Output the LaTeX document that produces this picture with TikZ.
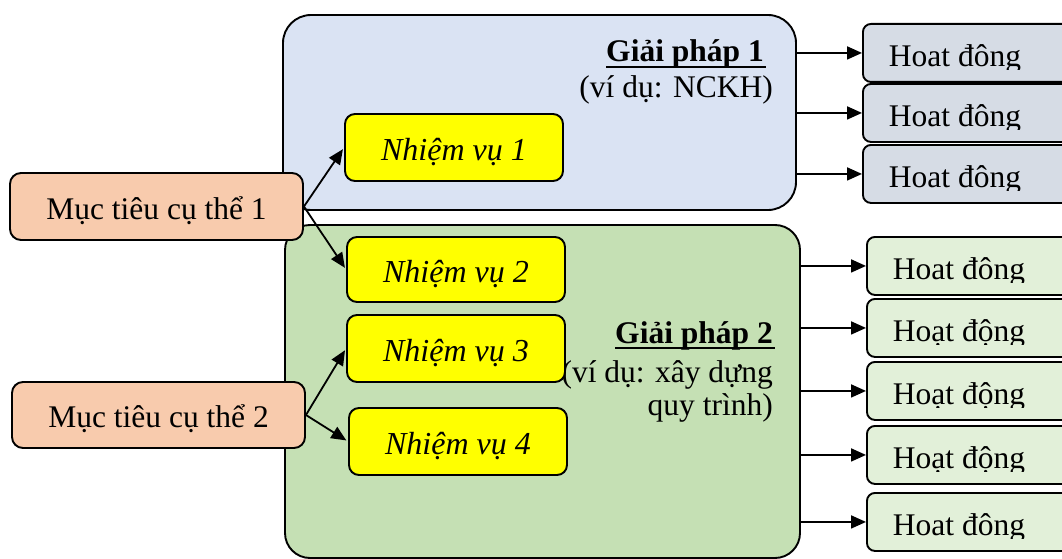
\documentclass[tikz,border=0pt]{standalone}
\usepackage{fontspec}
\setmainfont{Liberation Serif}
\usetikzlibrary{arrows.meta}
\definecolor{gpblue}{HTML}{DAE3F3}
\definecolor{gpgreen}{HTML}{C5E0B4}
\definecolor{mtorange}{HTML}{F8CBAD}
\definecolor{nvyellow}{HTML}{FFFF00}
\definecolor{hdblue}{HTML}{D6DCE5}
\definecolor{hdgreen}{HTML}{E2F0D9}
\begin{document}
\begin{tikzpicture}[x=1pt,y=-1pt,
  font=\fontsize{31.5}{36}\selectfont,
  box/.style={draw=black, line width=1.9pt, inner sep=0pt},
  gpbox/.style={box, rounded corners=28pt},
  mtbox/.style={box, fill=mtorange, rounded corners=11pt, minimum width=293pt, minimum height=67pt, text height=25pt, text depth=0pt},
  nvbox/.style={box, fill=nvyellow, rounded corners=10pt, minimum width=218pt, minimum height=67pt, text height=25pt, text depth=0pt, font=\fontsize{32}{36}\selectfont\itshape},
  hd/.style={box, rounded corners=8pt, minimum width=240pt, minimum height=58pt, anchor=north west,
    path picture={\clip ([yshift=12pt]path picture bounding box.south west) rectangle (path picture bounding box.north east);
      \node[anchor=base west, inner sep=0pt, minimum width=0pt, minimum height=0pt, draw=none, fill=none] at ([xshift=25pt,yshift=15pt]path picture bounding box.south west) {#1};}},
  lbl/.style={inner sep=0pt, anchor=base east},
  uline/.style={line width=2.6pt},
  arr/.style={line width=1.8pt, -{Triangle[length=15pt,width=13pt]}}
]
\useasboundingbox (0,0) rectangle (1062,559);

% big solution boxes
\node[gpbox, fill=gpblue, minimum width=513pt, minimum height=195pt] (gp1) at (539.5,112.5) {};
\node[gpbox, fill=gpgreen, rounded corners=25pt, minimum width=515pt, minimum height=333pt] (gp2) at (542.5,391.5) {};

% solution labels
\node[lbl, font=\fontsize{31.5}{36}\selectfont\bfseries] (gp1a) at (764,62) {Giải pháp 1};
\draw[uline] ([yshift=-5pt]gp1a.base west) -- ([yshift=-5pt,xshift=2pt]gp1a.base east);
\node[lbl] (gp1b) at (773,98) {(ví dụ: NCKH)};
\node[lbl, font=\fontsize{31.5}{36}\selectfont\bfseries] (gp2a) at (773,343) {Giải pháp 2};
\draw[uline] ([yshift=-5pt]gp2a.base west) -- ([yshift=-5pt,xshift=2pt]gp2a.base east);
\node[lbl] (gp2b) at (773,382) {(ví dụ: xây dựng};
\node[lbl] (gp2c) at (773,415) {quy trình)};

% objectives
\node[mtbox] (mt1) at (156.5,206.5) {Mục tiêu cụ thể 1};
\node[mtbox, minimum height=66pt] (mt2) at (158.5,415) {Mục tiêu cụ thể 2};

% tasks
\node[nvbox] (nv1) at (454,147.5) {Nhiệm vụ 1};
\node[nvbox, minimum height=65pt] (nv2) at (456,269.5) {Nhiệm vụ 2};
\node[nvbox] (nv3) at (456,348.5) {Nhiệm vụ 3};
\node[nvbox] (nv4) at (458,441.5) {Nhiệm vụ 4};

% activities
\node[hd={Hoat đông}, fill=hdblue] (h1) at (862,23) {};
\node[hd={Hoat đông}, fill=hdblue] (h2) at (862,83) {};
\node[hd={Hoat đông}, fill=hdblue] (h3) at (862,144) {};
\node[hd={Hoat đông}, fill=hdgreen] (h4) at (866,236) {};
\node[hd={Hoạt động}, fill=hdgreen] (h5) at (866,298) {};
\node[hd={Hoạt động}, fill=hdgreen] (h6) at (866,361) {};
\node[hd={Hoạt động}, fill=hdgreen] (h7) at (866,425) {};
\node[hd={Hoat đông}, fill=hdgreen] (h8) at (866,492) {};

% connectors objectives -> tasks
\draw[arr, shorten >=2pt] (mt1.east) -- (nv1.west);
\draw[arr, shorten >=2pt] (mt1.east) -- (nv2.west);
\draw[arr, shorten >=2pt] (mt2.east) -- (nv3.west);
\draw[arr, shorten >=2pt] (mt2.east) -- (nv4.west);

% connectors solutions -> activities
\foreach \h in {h1,h2,h3} {\draw[arr] (gp1.east |- \h.west) -- (\h.west);}
\foreach \h in {h4,h5,h6,h7,h8} {\draw[arr] (gp2.east |- \h.west) -- (\h.west);}
\end{tikzpicture}
\end{document}
